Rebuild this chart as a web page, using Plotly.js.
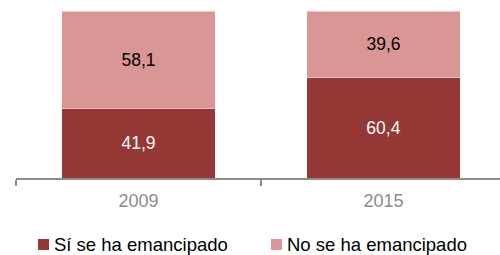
<!DOCTYPE html>
<html>
<head>
<meta charset="utf-8">
<script src="https://cdn.plot.ly/plotly-3.0.1.min.js"></script>
<style>html,body{margin:0;padding:0;background:#fff;}#chart{width:500px;height:255px;}</style>
</head>
<body>
<div id="chart"></div>
<script>
// Data
var years = ['2009', '2015'];
var seriesNames = ['Sí se ha emancipado', 'No se ha emancipado'];
var emancipado = [41.9, 60.4];
var noEmancipado = [58.1, 39.6];

var colors = ['#953735', '#D99694'];
var labelColors = ['#ffffff', '#000000'];
var font = 'Liberation Sans, Arial, sans-serif';

var W = 500, H = 255, ML = 16, MR = 0, MT = 11, MB = 77;
var plotW = W - ML - MR, plotH = H - MT - MB;
function px(x) { return (x - ML) / plotW; }
function py(y) { return (H - MB - y) / plotH; }

var traces = [emancipado, noEmancipado].map(function (vals, i) {
  return {
    type: 'bar',
    x: years,
    y: vals,
    name: seriesNames[i],
    marker: { color: colors[i], line: { color: 'rgba(255,255,255,0.6)', width: 0.75 } },
    texttemplate: '%{y:.1f}',
    textposition: 'inside',
    insidetextanchor: 'middle',
    textfont: { family: font, size: 17.5, color: labelColors[i] },
    hoverinfo: 'skip',
    showlegend: false
  };
});

// category width 245px -> right edge of window
var catPx = 245;
var xRange = [-0.5, -0.5 + plotW / catPx];

var legendSquares = [[38, 49], [271, 282]];
var legendTextX = [52, 285];
var shapes = [], annotations = [];
seriesNames.forEach(function (nm, i) {
  shapes.push({
    type: 'rect', xref: 'paper', yref: 'paper',
    x0: px(legendSquares[i][0]), x1: px(legendSquares[i][1]),
    y0: py(250), y1: py(239),
    fillcolor: colors[i], line: { width: 0 }
  });
  annotations.push({
    xref: 'paper', yref: 'paper',
    x: px(legendTextX[i]), y: py(244.5),
    xanchor: 'left', yanchor: 'middle',
    text: nm, showarrow: false,
    font: { family: font, size: 18.5, color: '#000000' }
  });
});

var layout = {
  width: W, height: H,
  margin: { l: ML, r: MR, t: MT, b: MB, pad: 0 },
  barmode: 'stack',
  bargap: 0.375,
  separators: ',.',
  paper_bgcolor: '#ffffff',
  plot_bgcolor: '#ffffff',
  showlegend: false,
  xaxis: {
    type: 'category',
    range: xRange,
    showline: true, linecolor: '#8c8c8c', linewidth: 1.5,
    ticks: 'outside', tickson: 'boundaries', ticklen: 6, tickcolor: '#8c8c8c', tickwidth: 1.5,
    ticklabelstandoff: 6,
    showgrid: false, zeroline: false,
    tickfont: { family: font, size: 18, color: '#8c8c8c' },
    fixedrange: true
  },
  yaxis: {
    range: [0, 100],
    visible: false,
    showgrid: false, zeroline: false,
    fixedrange: true
  },
  shapes: shapes,
  annotations: annotations
};

Plotly.newPlot('chart', traces, layout, { displayModeBar: false, staticPlot: true });
</script>
</body>
</html>
